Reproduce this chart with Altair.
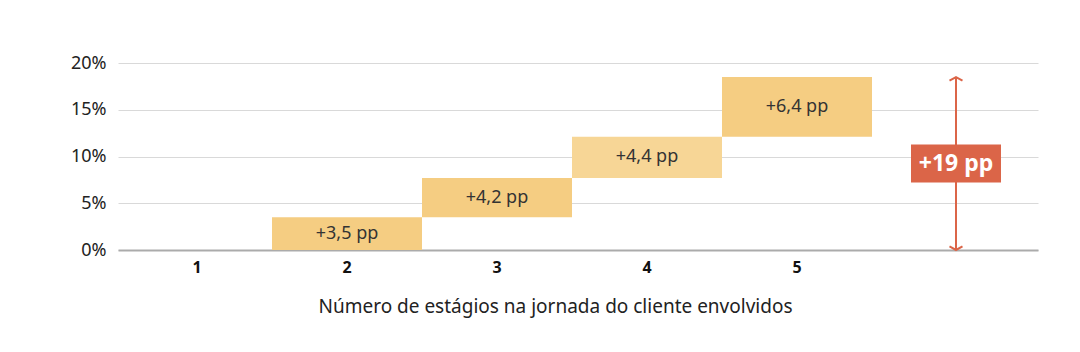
import altair as alt
import pandas as pd

stages = ["1", "2", "3", "4", "5"]
increments = [0.0, 3.5, 4.2, 4.4, 6.4]
bar_colors = ["#F5CD82", "#F5CD82", "#F5CD82", "#F7D696", "#F5CD82"]
total_stage = "6"
total_label = "+19 pp"
x_title = "Número de estágios na jornada do cliente envolvidos"
y_ticks = [0, 5, 10, 15, 20]

FONT = "Noto Sans"
RED = "#DB6548"

starts, ends = [], []
acc = 0.0
for v in increments:
    starts.append(acc)
    acc += v
    ends.append(acc)
total = acc

labels = [("+" + f"{v:.1f}".replace(".", ",") + " pp") if v > 0 else "" for v in increments]
bars = pd.DataFrame({
    "stage": stages,
    "start": starts,
    "end": ends,
    "mid": [(s + e) / 2 for s, e in zip(starts, ends)],
    "label": labels,
    "color": bar_colors,
})
bars_drawn = bars[bars["end"] > bars["start"]]

tot = pd.DataFrame({"stage": [total_stage], "zero": [0.0], "total": [total],
                    "mid": [total / 2], "label": [total_label]})

domain = stages + [total_stage]
xscale = alt.Scale(domain=domain, paddingInner=0, paddingOuter=0.0667, align=0.2)
xenc = alt.X("stage:N", scale=xscale, sort=domain,
             axis=alt.Axis(title=x_title, labelAngle=0, ticks=False,
                           labelExpr="datum.value == '6' ? '' : datum.value",
                           domainColor="#ABABAB", domainWidth=2,
                           labelFont=FONT, labelFontSize=16, labelFontWeight="bold",
                           labelColor="#111", labelPadding=9,
                           titleFont=FONT, titleFontSize=19, titleFontWeight="normal",
                           titleColor="#222", titlePadding=22, titleX=437,
                           titleAlign="center"))
yscale = alt.Scale(domain=[0, 20], nice=False)

base = alt.Chart(bars_drawn)
bar_layer = base.mark_bar(width=150).encode(
    x=xenc,
    y=alt.Y("start:Q", scale=yscale,
            axis=alt.Axis(title=None, values=y_ticks, labelExpr="datum.value + '%'",
                          domain=False, ticks=False, gridColor="#D9D9D9", gridWidth=1,
                          labelFont=FONT, labelFontSize=18, labelColor="#222",
                          labelPadding=12)),
    y2="end:Q",
    color=alt.Color("color:N", scale=None),
)
text_layer = base.mark_text(font=FONT, fontSize=18, color="#333").encode(
    x=alt.X("stage:N", scale=xscale, sort=domain), y=alt.Y("mid:Q", scale=yscale),
    text="label:N")

tb = alt.Chart(tot)
arrow_line = tb.mark_rule(color=RED, strokeWidth=2, xOffset=9).encode(
    x=alt.X("stage:N", scale=xscale, sort=domain),
    y=alt.Y("zero:Q", scale=yscale), y2="total:Q")
head_top = tb.mark_point(shape="M-1,0.55L0,0L1,0.55", filled=False, color=RED,
                         strokeWidth=2, size=169, opacity=1, xOffset=9).encode(
    x=alt.X("stage:N", scale=xscale, sort=domain), y=alt.Y("total:Q", scale=yscale))
head_bot = tb.mark_point(shape="M-1,-0.55L0,0L1,-0.55", filled=False, color=RED,
                         strokeWidth=2, size=169, opacity=1, xOffset=9).encode(
    x=alt.X("stage:N", scale=xscale, sort=domain), y=alt.Y("zero:Q", scale=yscale))
box = tb.mark_point(shape="M-1,-0.42L1,-0.42L1,0.42L-1,0.42Z", filled=True, color=RED,
                    size=8100, opacity=1, xOffset=9).encode(
    x=alt.X("stage:N", scale=xscale, sort=domain), y=alt.Y("mid:Q", scale=yscale))
box_text = tb.mark_text(font=FONT, fontSize=23, fontWeight="bold", color="white",
                        xOffset=9).encode(
    x=alt.X("stage:N", scale=xscale, sort=domain), y=alt.Y("mid:Q", scale=yscale),
    text="label:N")

chart = alt.layer(bar_layer, text_layer, arrow_line, head_top, head_bot, box, box_text).properties(
    width=920, height=187,
    autosize=alt.AutoSizeParams(type="none"),
    padding={"left": 118, "top": 63, "right": 42, "bottom": 102},
).configure(background="white").configure_view(stroke=None)

chart.save("out.html", embed_options={"renderer": "svg", "actions": False})
